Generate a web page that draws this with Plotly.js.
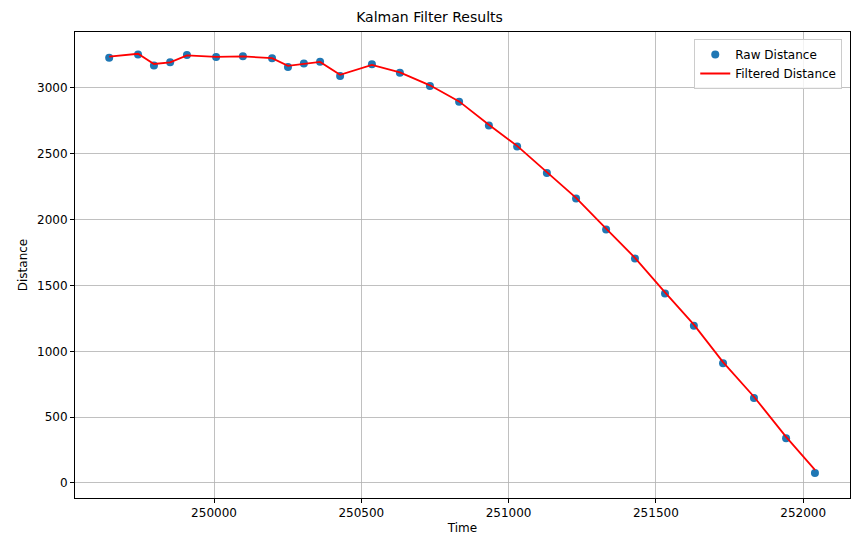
<!DOCTYPE html>
<html>
<head>
<script src="https://cdn.plot.ly/plotly-3.0.1.min.js"></script>
<style>body{margin:0;background:#fff}</style>
</head>
<body>
<div id="plot" style="width:859px;height:547px"></div>
<script>
let times = [249644, 249742, 249796, 249851, 249908, 250007, 250098, 250197, 250251, 250305,
  250360, 250428, 250536, 250631, 250733, 250832, 250933, 251029, 251130, 251229,
  251331, 251429, 251531, 251629, 251728, 251833, 251942, 252040];
let rawDistance = [3230, 3255, 3170, 3195, 3250, 3235, 3240, 3225, 3160, 3185,
  3200, 3090, 3180, 3115, 3015, 2895, 2715, 2555, 2355, 2160,
  1925, 1705, 1440, 1195, 910, 645, 340, 75];
let filteredDistance = [3238, 3260, 3182, 3195, 3248, 3236, 3240, 3226, 3168, 3185,
  3198, 3100, 3175, 3118, 3020, 2898, 2720, 2560, 2360, 2165,
  1932, 1710, 1447, 1203, 918, 655, 350, 100];
let timeTicks = [250000, 250500, 251000, 251500, 252000];
let timeTickLabels = ['250000', '250500', '251000', '251500', '252000'];

let axisStyle = {
  showgrid: true,
  gridcolor: '#b0b0b0',
  gridwidth: 0.8,
  zeroline: false,
  showline: true,
  mirror: true,
  linecolor: 'black',
  linewidth: 1,
  ticks: 'outside',
  ticklen: 4,
  tickcolor: 'black',
  tickfont: {size: 12, color: 'black'}
};

let data = [
  {
    x: times, y: rawDistance, mode: 'markers', name: 'Raw Distance',
    marker: {color: '#1f77b4', size: 8}
  },
  {
    x: times, y: filteredDistance, mode: 'lines', name: 'Filtered Distance',
    line: {color: 'red', width: 1.8}
  }
];

let layout = {
  font: {family: 'DejaVu Sans', size: 12, color: 'black'},
  title: {text: 'Kalman Filter Results', font: {size: 14}, x: 0.5, xanchor: 'center', y: 0.977},
  xaxis: Object.assign({}, axisStyle, {
    title: {text: 'Time', standoff: 4, font: {size: 12}},
    range: [249528, 252159],
    tickvals: timeTicks,
    ticktext: timeTickLabels
  }),
  yaxis: Object.assign({}, axisStyle, {
    title: {text: 'Distance', standoff: 6, font: {size: 12}},
    range: [-114, 3425],
    dtick: 500
  }),
  legend: {
    x: 0.99, y: 0.985, xanchor: 'right', yanchor: 'top',
    bordercolor: '#cccccc', borderwidth: 1, bgcolor: 'rgba(255,255,255,0.8)',
    font: {size: 12}
  },
  showlegend: true,
  paper_bgcolor: 'white',
  plot_bgcolor: 'white',
  margin: {l: 75, r: 9, t: 32, b: 49}
};

Plotly.newPlot('plot', data, layout, {staticPlot: true});
</script>
</body>
</html>
